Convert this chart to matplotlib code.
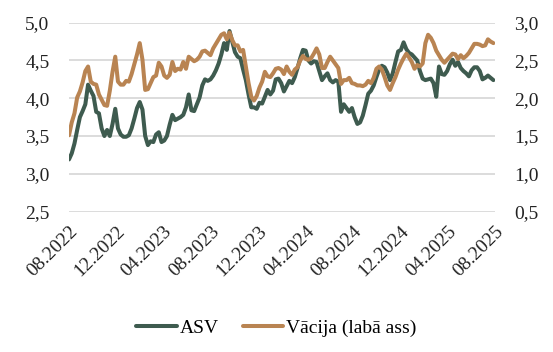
import matplotlib
matplotlib.use("Agg")
import matplotlib.pyplot as plt
from matplotlib.ticker import FuncFormatter, MultipleLocator
import pandas as pd

start_date = "2022-08-01"
end_date = "2025-08-01"

asv = [3.19, 3.27, 3.40, 3.58, 3.75, 3.83, 3.92, 4.18, 4.10, 4.03,
       3.82, 3.80, 3.60, 3.50, 3.58, 3.50, 3.66, 3.86, 3.60, 3.52,
       3.49, 3.49, 3.51, 3.60, 3.73, 3.87, 3.95, 3.85, 3.50, 3.38,
       3.43, 3.42, 3.52, 3.55, 3.42, 3.44, 3.50, 3.65, 3.78, 3.71,
       3.73, 3.75, 3.78, 3.88, 4.05, 3.84, 3.83, 3.92, 4.01, 4.17,
       4.25, 4.23, 4.25, 4.30, 4.37, 4.46, 4.58, 4.73, 4.64, 4.89,
       4.75, 4.61, 4.55, 4.53, 4.38, 4.24, 4.05, 3.88, 3.88, 3.86,
       3.94, 3.93, 4.02, 4.11, 4.05, 4.10, 4.25, 4.26, 4.20, 4.09,
       4.16, 4.23, 4.20, 4.28, 4.40, 4.53, 4.64, 4.63, 4.50, 4.46,
       4.49, 4.48, 4.36, 4.24, 4.29, 4.33, 4.24, 4.21, 4.24, 4.22,
       3.82, 3.92, 3.87, 3.82, 3.87, 3.75, 3.66, 3.68, 3.77, 3.91,
       4.06, 4.10, 4.17, 4.28, 4.38, 4.43, 4.41, 4.34, 4.24, 4.33,
       4.48, 4.62, 4.64, 4.74, 4.65, 4.60, 4.58, 4.54, 4.50, 4.36,
       4.26, 4.24, 4.25, 4.26, 4.20, 4.02, 4.42, 4.32, 4.31, 4.36,
       4.45, 4.51, 4.43, 4.48, 4.40, 4.36, 4.33, 4.29, 4.37, 4.41,
       4.41, 4.36, 4.25, 4.27, 4.30, 4.27, 4.24]

vacija = [1.51, 1.68, 1.80, 2.01, 2.09, 2.21, 2.36, 2.42, 2.22, 2.19,
          2.18, 2.05, 1.98, 1.91, 1.90, 2.10, 2.35, 2.55, 2.22, 2.18,
          2.18, 2.23, 2.22, 2.32, 2.45, 2.58, 2.73, 2.51, 2.11, 2.12,
          2.20, 2.28, 2.30, 2.47, 2.42, 2.30, 2.27, 2.31, 2.48, 2.36,
          2.39, 2.38, 2.48, 2.39, 2.55, 2.52, 2.49, 2.51, 2.55, 2.62,
          2.63, 2.60, 2.57, 2.66, 2.72, 2.78, 2.84, 2.86, 2.78, 2.87,
          2.77, 2.70, 2.70, 2.62, 2.64, 2.42, 2.20, 2.02, 1.97, 2.03,
          2.14, 2.22, 2.35, 2.29, 2.28, 2.33, 2.39, 2.40, 2.38, 2.32,
          2.42, 2.35, 2.31, 2.38, 2.41, 2.50, 2.56, 2.52, 2.51, 2.53,
          2.59, 2.66, 2.58, 2.40, 2.40, 2.48, 2.55, 2.50, 2.45, 2.40,
          2.19, 2.24, 2.24, 2.27, 2.20, 2.19, 2.17, 2.17, 2.16, 2.18,
          2.23, 2.20, 2.27, 2.39, 2.42, 2.38, 2.28, 2.17, 2.11, 2.20,
          2.28, 2.38, 2.46, 2.53, 2.59, 2.54, 2.48, 2.39, 2.44, 2.42,
          2.46, 2.73, 2.84, 2.80, 2.73, 2.63, 2.57, 2.51, 2.47, 2.51,
          2.55, 2.59, 2.58, 2.52, 2.57, 2.53, 2.56, 2.60, 2.66, 2.72,
          2.72, 2.71, 2.69, 2.70, 2.78, 2.75, 2.73]

tick_labels = ["08.2022", "12.2022", "04.2023", "08.2023", "12.2023",
               "04.2024", "08.2024", "12.2024", "04.2025", "08.2025"]
series_names = ["ASV", "Vācija (labā ass)"]

dates = pd.date_range(start_date, periods=len(asv), freq="7D")
tick_dates = [pd.Timestamp(int(s[3:]), int(s[:2]), 1) for s in tick_labels]

plt.rcParams["font.family"] = ["Liberation Serif", "DejaVu Serif"]

green = "#3E5B4F"
orange = "#B98452"

fig = plt.figure(figsize=(5.53, 3.52), dpi=100)
ax = fig.add_axes([0.1248, 0.399, 0.895 - 0.1248, 0.9355 - 0.399])
ax2 = ax.twinx()

l1, = ax.plot(dates, asv, color=green, lw=2.9, solid_capstyle="round",
              solid_joinstyle="round", zorder=3)
l2, = ax2.plot(dates, vacija, color=orange, lw=2.9, solid_capstyle="round",
               solid_joinstyle="round", zorder=3)

ax.set_ylim(2.5, 5.0)
ax2.set_ylim(0.5, 3.0)
ax.yaxis.set_major_locator(MultipleLocator(0.5))
ax2.yaxis.set_major_locator(MultipleLocator(0.5))
fmt = FuncFormatter(lambda v, p: f"{v:.1f}".replace(".", ","))
ax.yaxis.set_major_formatter(fmt)
ax2.yaxis.set_major_formatter(fmt)

ax.set_xlim(pd.Timestamp(start_date), pd.Timestamp(end_date))
ax.set_xticks(tick_dates)
ax.set_xticklabels(tick_labels, rotation=45, ha="right", rotation_mode="anchor")

ax.grid(axis="y", color="#D9D9D9", lw=1.3, zorder=0)
ax.set_axisbelow(True)
for a in (ax, ax2):
    for s in a.spines.values():
        s.set_visible(False)
    a.tick_params(length=0, labelsize=14, colors="#222222")
ax.tick_params(axis="y", pad=14)
ax2.tick_params(axis="y", pad=14)
ax.tick_params(axis="x", pad=8, labelsize=14)

fig.legend([l1, l2], series_names, loc="center", bbox_to_anchor=(0.5, 1 - 328 / 352),
           ncol=2, frameon=False, fontsize=14, handlelength=2.1, handletextpad=0.15,
           columnspacing=1.2)

fig.savefig("out.png", dpi=100)
